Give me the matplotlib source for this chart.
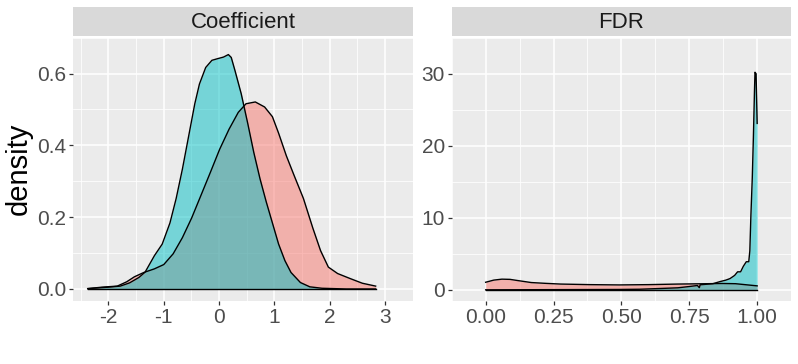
import matplotlib
matplotlib.use("Agg")
import matplotlib.pyplot as plt

plt.rcParams['font.family'] = ['Liberation Sans', 'DejaVu Sans']

# Coefficient panel: density curves
coef_red_x = [-2.375, -2.12, -1.84, -1.67, -1.53, -1.36, -1.17, -1.0, -0.83, -0.663, -0.495,
              -0.327, -0.157, 0.01, 0.18, 0.347, 0.487, 0.655, 0.823, 0.964, 1.076, 1.216,
              1.357, 1.525, 1.694, 1.834, 1.975, 2.143, 2.37, 2.59, 2.83]
coef_red_y = [0.001, 0.005, 0.008, 0.02, 0.034, 0.046, 0.056, 0.068, 0.098, 0.143, 0.198,
              0.261, 0.325, 0.389, 0.445, 0.492, 0.516, 0.521, 0.507, 0.48, 0.434, 0.371,
              0.316, 0.252, 0.17, 0.107, 0.061, 0.043, 0.029, 0.016, 0.008]
coef_cyan_x = [-2.375, -2.01, -1.786, -1.618, -1.45, -1.337, -1.168, -1.028, -0.888, -0.776,
               -0.663, -0.551, -0.439, -0.355, -0.242, -0.13, -0.017, 0.08, 0.168, 0.22,
               0.29, 0.40, 0.517, 0.628, 0.74, 0.852, 0.964, 1.076, 1.19, 1.30, 1.47, 1.64,
               1.86, 2.3, 2.83]
coef_cyan_y = [0.001, 0.005, 0.008, 0.017, 0.032, 0.047, 0.093, 0.125, 0.184, 0.252,
               0.334, 0.425, 0.516, 0.571, 0.617, 0.637, 0.642, 0.646, 0.653, 0.645,
               0.607, 0.544, 0.462, 0.38, 0.307, 0.243, 0.184, 0.125, 0.079, 0.046, 0.018, 0.006,
               0.002, 0.0, 0.0]

# FDR panel
fdr_red_x = [0.0, 0.03, 0.06, 0.09, 0.114, 0.168, 0.22, 0.276, 0.384, 0.492, 0.6, 0.708,
             0.816, 0.87, 0.92, 0.96, 1.0]
fdr_red_y = [1.05, 1.35, 1.48, 1.45, 1.31, 1.01, 0.9, 0.8, 0.72, 0.68, 0.72, 0.8,
             0.85, 0.88, 0.85, 0.7, 0.55]
fdr_cyan_x = [0.0, 0.1, 0.2, 0.3, 0.4, 0.49, 0.567, 0.61, 0.654, 0.708, 0.75, 0.78, 0.787,
              0.79, 0.837, 0.863, 0.885, 0.9, 0.917, 0.928, 0.939, 0.949, 0.96, 0.969,
              0.973, 0.977, 0.982, 0.986, 0.99, 0.992, 0.996, 1.0]
fdr_cyan_y = [0.0, 0.01, 0.02, 0.03, 0.04, 0.05, 0.08, 0.14, 0.2, 0.28, 0.46, 0.6, 0.3,
              0.7, 0.85, 1.14, 1.35, 1.56, 2.0, 2.5, 2.5, 3.26, 3.9, 3.9,
              5.4, 10.4, 15.5, 21.0, 27.4, 30.2, 30.0, 23.1]

panels = [
    ("Coefficient", coef_red_x, coef_red_y, coef_cyan_x, coef_cyan_y,
     [-2, -1, 0, 1, 2, 3], ["-2", "-1", "0", "1", "2", "3"],
     [0, 0.2, 0.4, 0.6], ["0.0", "0.2", "0.4", "0.6"]),
    ("FDR", fdr_red_x, fdr_red_y, fdr_cyan_x, fdr_cyan_y,
     [0, 0.25, 0.5, 0.75, 1.0], ["0.00", "0.25", "0.50", "0.75", "1.00"],
     [0, 10, 20, 30], ["0", "10", "20", "30"]),
]

red = "#F8766D"
cyan = "#00BFC4"

fig = plt.figure(figsize=(7.98, 3.64), dpi=100)
lefts = [73.3 / 798, 451.7 / 798]
w = 339.4 / 798
b = 63.3 / 364
h = 263 / 364

for left, (title, rx, ry, cx, cy, xt, xtl, yt, ytl) in zip(lefts, panels):
    ax = fig.add_axes([left, b, w, h])
    ax.set_facecolor("#EBEBEB")
    ax.fill_between(rx, 0, ry, color=red, alpha=0.5, lw=0)
    ax.plot(rx, ry, color="black", lw=1.0, solid_joinstyle="round")
    ax.plot([rx[0], rx[-1]], [0, 0], color="black", lw=1.0)
    ax.fill_between(cx, 0, cy, color=cyan, alpha=0.5, lw=0)
    ax.plot(cx, cy, color="black", lw=1.0, solid_joinstyle="round")
    ax.margins(x=0.05, y=0.05)

    ax.set_xticks(xt)
    ax.set_xticklabels(xtl)
    ax.set_yticks(yt)
    ax.set_yticklabels(ytl)
    step = xt[1] - xt[0]
    xm = [xt[0] - step / 2] + [(a + c) / 2 for a, c in zip(xt[:-1], xt[1:])] + [xt[-1] + step / 2]
    ym = [(a + c) / 2 for a, c in zip(yt[:-1], yt[1:])] + [yt[-1] + (yt[1] - yt[0]) / 2]
    ax.set_xticks(xm, minor=True)
    ax.set_yticks(ym, minor=True)
    xl = ax.get_xlim()
    yl = ax.get_ylim()
    ax.grid(which="major", color="white", lw=1.1)
    ax.grid(which="minor", color="white", lw=0.55)
    ax.set_axisbelow(True)
    ax.set_xlim(xl)
    ax.set_ylim(yl)
    ax.tick_params(which="major", length=3, width=0.9, color="#333333",
                   labelsize=15, labelcolor="#4D4D4D", pad=2)
    ax.tick_params(which="minor", length=0)
    for s in ax.spines.values():
        s.set_visible(False)

    sax = fig.add_axes([left, 328 / 364, w, 28.7 / 364])
    sax.set_facecolor("#D9D9D9")
    sax.set_xticks([])
    sax.set_yticks([])
    for s in sax.spines.values():
        s.set_visible(False)
    sax.text(0.5, 0.47, title, ha="center", va="center", fontsize=16, color="#1A1A1A",
             transform=sax.transAxes)

    if title == "Coefficient":
        ax.set_ylabel("density", fontsize=21, color="black", labelpad=3)

fig.savefig("out.png", dpi=100)
